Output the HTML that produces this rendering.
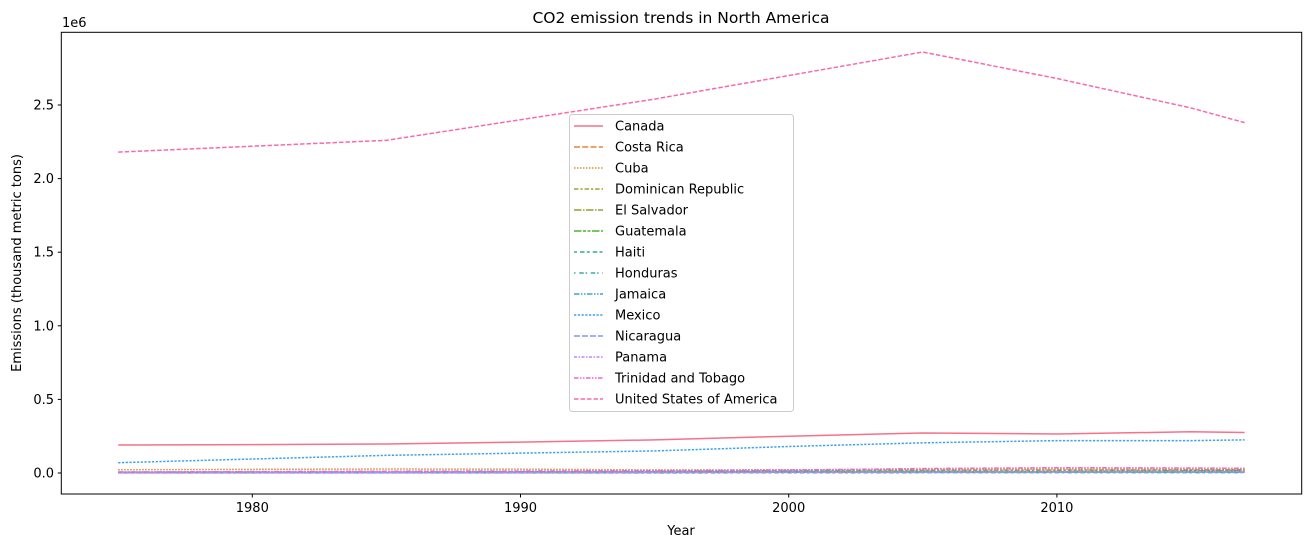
<!DOCTYPE html>
<html><head><meta charset="utf-8"><style>
body{margin:0;background:#fff;}
svg{display:block;font-family:"DejaVu Sans","Liberation Sans",sans-serif;}
</style></head><body>
<svg id="chart" width="1311" height="547" xmlns="http://www.w3.org/2000/svg">
<rect width="1311" height="547" fill="#fff"/>
<text x="681" y="23" font-size="15.5" text-anchor="middle">CO2 emission trends in North America</text>
<text x="681" y="535" font-size="13" text-anchor="middle">Year</text>
<text transform="translate(21,263) rotate(-90)" font-size="13" text-anchor="middle">Emissions (thousand metric tons)</text>
<text x="62" y="27" font-size="13">1e6</text>
<g id="ticks"></g>
<g id="lines"></g>
<rect x="61.3" y="32.3" width="1240.4" height="461.7" fill="none" stroke="#000" stroke-width="1"/>
<g id="legend"></g>
</svg>
<script>
const years=[1975,1980,1985,1990,1995,2000,2005,2010,2015,2017];
const countries=["Canada","Costa Rica","Cuba","Dominican Republic","El Salvador","Guatemala","Haiti","Honduras","Jamaica","Mexico","Nicaragua","Panama","Trinidad and Tobago","United States of America"];
const canada=[190000,193000,197000,210000,225000,250000,272000,265000,280000,275000];
const costaRica=[2500,2800,2700,3000,4500,5500,6500,7500,7800,8000];
const cuba=[22000,25000,27000,26000,21000,22000,24000,27000,26000,25000];
const dominican=[4500,6000,7000,8000,12000,17000,19000,20000,21000,22000];
const elSalvador=[2000,2000,2200,2500,4500,5500,6500,6500,6500,6800];
const guatemala=[3000,4000,3500,4000,6500,9500,11000,11500,15000,16000];
const haiti=[500,700,800,900,1000,1500,2200,2300,2800,3000];
const honduras=[1500,1800,2000,2200,3500,5000,7500,8000,9500,9500];
const jamaica=[7000,6500,5500,7500,9000,10000,10500,7500,7500,7500];
const mexico=[70000,95000,120000,135000,150000,180000,205000,220000,220000,225000];
const nicaragua=[1500,2000,2000,2200,3000,4000,4500,4700,5200,5300];
const panama=[3500,3000,2500,2800,5000,6000,7000,9000,10500,11000];
const trinidad=[6000,10000,12000,14000,16000,20000,30000,36000,34000,32000];
const usa=[2180000,2220000,2260000,2400000,2540000,2700000,2860000,2680000,2480000,2380000];
const series=[canada,costaRica,cuba,dominican,elSalvador,guatemala,haiti,honduras,jamaica,mexico,nicaragua,panama,trinidad,usa];
const xTicks=[1980,1990,2000,2010];
const yTicks=[0,500000,1000000,1500000,2000000,2500000];
const yTickLabels=["0.0","0.5","1.0","1.5","2.0","2.5"];
const colors=["#f77189","#e7823a","#d08d31","#a89f33","#8ca32f","#50b131","#35ad86","#36ada4","#38a9c5","#3ba3ec","#8197f4","#c386f4","#f461dd","#f66bad"];
const dashes=["","6,2.25","1.5,1.5","4.5,1.9,2.25,1.9","7.5,1.5,1.5,1.5","7.5,1.5,3,1.5,3,1.5","3,3,4.5,2.25","1.5,3.75,4.5,1.8","5.5,1.5,1.5,1.5,1.5,1.5","2.25,1.5,2.25,1.5","6,2","3,1.5,1.5,1.5","4.5,1.5,1.5,1.5,1.5,1.5","4.5,2"];
const NS="http://www.w3.org/2000/svg";
function xs(y){return 252.3+(y-1980)*26.82;}
function ys(v){return 473-v/1e6*147.2;}
function mk(t,a,p){const e=document.createElementNS(NS,t);for(const k in a)e.setAttribute(k,a[k]);p.appendChild(e);return e;}
const tk=document.getElementById('ticks');
xTicks.forEach(t=>{
 const l=mk('line',{x1:xs(t),x2:xs(t),y1:494,y2:497.5,stroke:'#000'},tk);
 
 
 const tx=mk('text',{x:xs(t),y:512,'font-size':13,'text-anchor':'middle'},tk);tx.textContent=t;
 
 
});
yTicks.forEach((t,i)=>{
 const l=mk('line',{x1:57.8,x2:61.3,y1:ys(t),y2:ys(t),stroke:'#000'},tk);
 
 
 const tx=mk('text',{x:54,y:ys(t)+4.5,'font-size':13,'text-anchor':'end'},tk);tx.textContent=yTickLabels[i];
 
 
});
const lg=document.getElementById('lines');
series.forEach((s,i)=>{
 const d=s.map((v,j)=>(j?'L':'M')+xs(years[j]).toFixed(2)+','+ys(v).toFixed(2)).join('');
 const p=mk('path',{d:d,fill:'none',stroke:colors[i],'stroke-width':1.5},lg);
 if(dashes[i])p.setAttribute('stroke-dasharray',dashes[i]);
 
 
});
const leg=document.getElementById('legend');
const box=mk('rect',{x:569.5,y:114.5,width:224,height:297,rx:3,fill:'#fff','fill-opacity':0.8,stroke:'#ccc'},leg);


countries.forEach((c,i)=>{
 const y=126+i*21;
 const l=mk('line',{x1:574,x2:603,y1:y,y2:y,stroke:colors[i],'stroke-width':1.5},leg);
 if(dashes[i])l.setAttribute('stroke-dasharray',dashes[i]);
 
 
 const t=mk('text',{x:615,y:y+4.5,'font-size':13},leg);t.textContent=c;
 
 
});
</script>
</body></html>
